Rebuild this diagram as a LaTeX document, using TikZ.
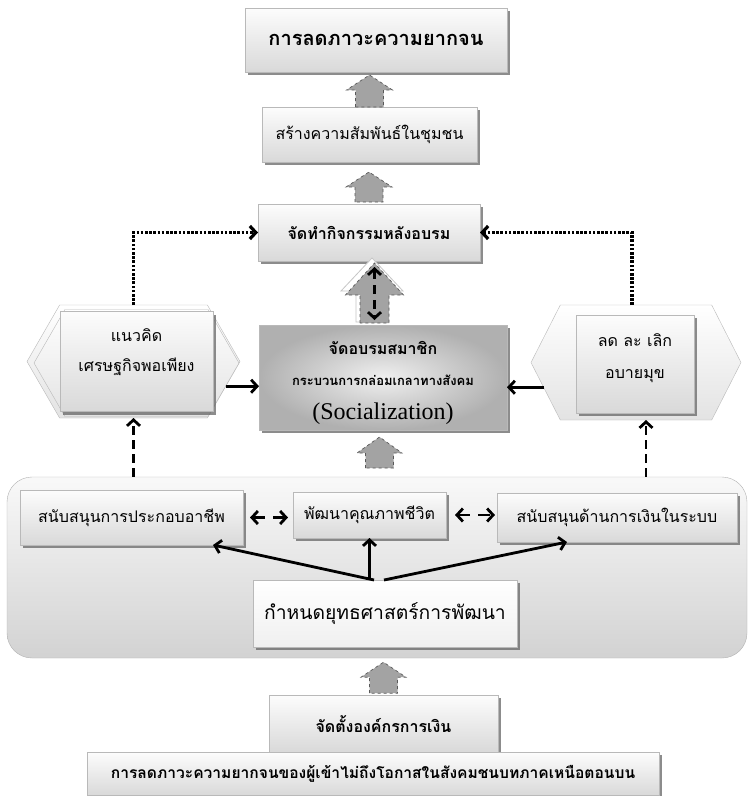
\documentclass[tikz,border=0pt]{standalone}
\usepackage{fontspec}
\setmainfont[Script=Thai]{Loma}
\newfontfamily\latinfont{Liberation Serif}
\usetikzlibrary{shapes.symbols, arrows.meta, positioning, shadows}

% block arrow pointing up: style, tail point, length, half shaft, half head, head length
\newcommand{\blockup}[6]{%
  \path[#1] (#2) ++(-#4,0) -- ++(0,-#3+#6) -- ++(-#5+#4,0) -- ++(#5,-#6) -- ++(#5,#6) -- ++(-#5+#4,0) -- ++(0,#3-#6) -- cycle;}

\begin{document}
\begin{tikzpicture}[x=1pt, y=-1pt,
    box/.style={rectangle, draw=gray!55, top color=gray!2, bottom color=gray!30, align=center, inner sep=2pt, outer sep=0pt, font=\fontsize{16}{30}\selectfont, drop shadow={shadow xshift=3pt, shadow yshift=-3pt, fill=black!60, opacity=.75}},
    hexa/.style={signal, signal to=west and east, signal pointer angle=120, draw=gray!55, top color=white, bottom color=gray!22, inner sep=0pt, outer sep=0pt},
    blockfill/.style={fill=gray!72, draw=black!65, dashed, line width=.7pt},
    blockback/.style={fill=white, draw=gray!45, line width=.8pt},
    line/.style={draw, line width=2.8pt, -{Straight Barb[length=6pt,width=13pt]}},
    dotline/.style={line, line width=3.2pt, dash pattern=on 2.6pt off 1.6pt},
    dashline/.style={line, dash pattern=on 9pt off 5pt},
    dbline/.style={line, {Straight Barb[length=6pt,width=13pt]}-{Straight Barb[length=6pt,width=13pt]}, dash pattern=on 12pt off 8pt}
    ]
    \path[use as bounding box, fill=white] (0,0) rectangle (748,796);

    % frame round the strategy part
    \node[rectangle, rounded corners=25pt, draw=gray!60, top color=gray!5, bottom color=gray!35, minimum width=740pt, minimum height=181pt] (frame) at (377,567.5) {};

    % main column
    \node[box, font=\bfseries\fontsize{20}{24}\selectfont, minimum width=262pt, minimum height=64pt] (goal) at (376,40) {การลดภาวะความยากจน};
    \node[box, minimum width=215pt, minimum height=55pt, below=35pt of goal, xshift=-6.5pt] (relation) {สร้างความสัมพันธ์ในชุมชน};
    \node[box, font=\bfseries\fontsize{16}{20}\selectfont, minimum width=222pt, minimum height=57pt, below=42pt of relation, xshift=-0.5pt] (activity) {จัดทำกิจกรรมหลังอบรม};
    \node[box, inner color=gray!12, outer color=gray!62, font=\fontsize{16}{31}\selectfont, minimum width=248pt, minimum height=105pt, below=64pt of activity, xshift=14pt] (train)
        {\rule{0pt}{24pt}\textbf{จัดอบรมสมาชิก}\\[0pt]{\bfseries\fontsize{13}{16}\selectfont กระบวนการกล่อมเกลาทางสังคม}\\[3pt]{\latinfont\fontsize{24}{28}\selectfont (Socialization)}};

    % hexagons left and right
    \node[hexa, minimum width=213pt, minimum height=113pt, left=19pt of train, yshift=16pt] (concept) {};
    \node[hexa, minimum width=205pt, minimum height=107pt] (conceptfront) at ([xshift=3pt,yshift=-1.5pt]concept.center) {};
    \node[box, minimum width=153pt, minimum height=100pt] (conceptbox) at ([xshift=3pt]concept.center) {แนวคิด\\เศรษฐกิจพอเพียง\rule[-22pt]{0pt}{1pt}};
    \node[hexa, signal pointer angle=126, minimum width=210pt, minimum height=115pt, right=24pt of train, yshift=15pt] (vice) {};
    \node[box, minimum width=118pt, minimum height=98pt] (vicebox) at ([xshift=-1pt,yshift=-1.5pt]vice.center) {ลด ละ เลิก\\[2pt]อบายมุข\rule[-15pt]{0pt}{1pt}};

    % boxes in the frame
    \node[box, minimum width=223pt, minimum height=55pt] (career) at (131.5,517.5) {สนับสนุนการประกอบอาชีพ};
    \node[box, minimum width=153pt, minimum height=46pt, right=50pt of career, yshift=2.5pt] (life) {พัฒนาคุณภาพชีวิต};
    \node[box, minimum width=240pt, minimum height=49pt, right=51pt of life, yshift=-2.5pt] (finance) {สนับสนุนด้านการเงินในระบบ};
    \node[box, top color=white, bottom color=gray!12, font=\fontsize{19.3}{24}\selectfont, minimum width=264pt, minimum height=67pt, below=42pt of life, xshift=15.5pt] (strategy) {กำหนดยุทธศาสตร์การพัฒนา};

    % bottom
    \node[box, font=\bfseries\fontsize{16}{20}\selectfont, minimum width=229pt, minimum height=57pt, below=37pt of frame, xshift=6.5pt] (fund) {จัดตั้งองค์กรการเงิน};
    \node[box, font=\bfseries\fontsize{15.6}{20}\selectfont, minimum width=572pt, minimum height=43pt, below=0pt of fund, xshift=-10.5pt] (base) {การลดภาวะความยากจนของผู้เข้าไม่ถึงโอกาสในสังคมชนบทภาคเหนือตอนบน};

    % block arrows
    \coordinate (up3tail) at ([xshift=-8.5pt,yshift=2pt]train.north);
    \blockup{blockfill}{relation.north}{32}{14}{23}{15}
    \blockup{blockfill}{[yshift=2pt]activity.north}{30}{14}{23}{15}
    \blockup{blockback}{[xshift=-2.5pt,yshift=1pt]up3tail}{64}{16}{31}{33}
    \blockup{blockfill}{up3tail}{60}{14.5}{29}{32}
    \blockup{blockfill}{[xshift=-3.5pt,yshift=-38pt]train.south}{31}{14}{22.5}{16}
    \blockup{blockfill}{[yshift=2pt]fund.north}{31}{14}{22.5}{15}

    % lines
    \coordinate (vicefoot) at ([xshift=10pt]vice.south);
    \path[dotline] (concept.north) |- (activity.west);
    \path[dotline] ([xshift=-4pt]vice.north) |- (activity.east);
    \path[line] (concept.-15) -- (concept.-15 -| train.west);
    \path[line] (vice.195) -- (vice.195 -| train.east);
    \path[dashline] (concept.south |- frame.north) -- (concept.south);
    \path[dashline] (vicefoot |- frame.north) -- (vicefoot);
    \path[dbline, dash pattern=on 9pt off 6pt, shorten <=6pt, shorten >=3pt] (activity.south -| up3tail) -- (up3tail);
    \path[dbline, shorten <=7pt, shorten >=5pt] (career.east) -- (career.east -| life.west);
    \path[dbline, shorten <=9pt, shorten >=2pt] (life.east) -- (life.east -| finance.west);
    \path[line] ([xshift=-11pt]strategy.north) -- ([xshift=81.5pt]career.south);
    \path[line] (strategy.north -| life.south) -- (life.south);
    \path[line] ([xshift=-1pt]strategy.north) -- ([xshift=-50pt]finance.south);

    \end{tikzpicture}
\end{document}
